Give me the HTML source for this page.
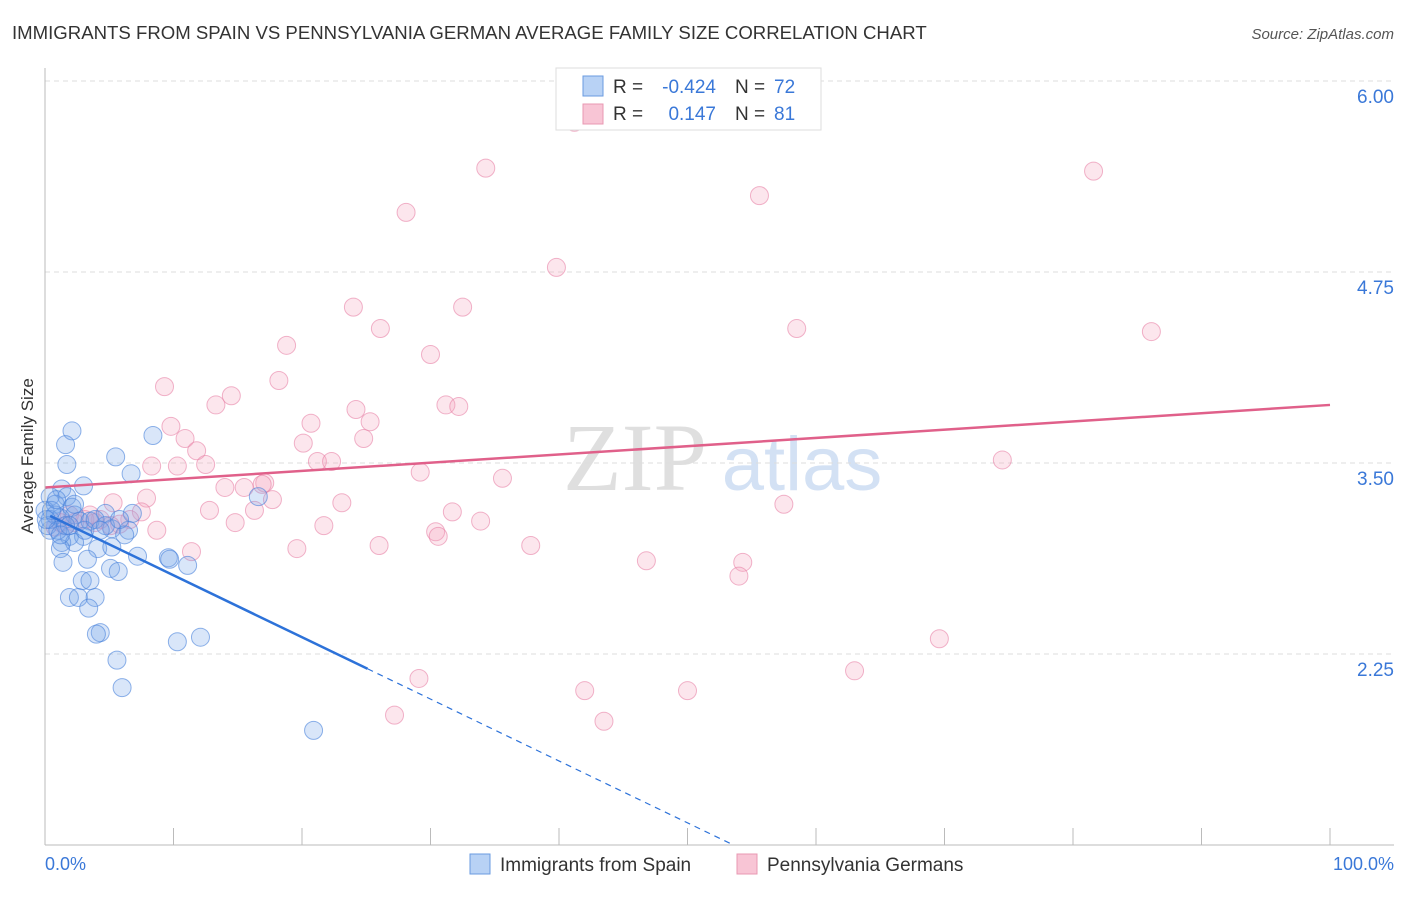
<!DOCTYPE html>
<html><head><meta charset="utf-8"><style>
body{margin:0;background:#fff;font-family:"Liberation Sans",sans-serif}
</style></head><body>
<svg id="c" width="1406" height="892" xmlns="http://www.w3.org/2000/svg" style="font-family:'Liberation Sans',sans-serif">
<text x="12" y="39" font-size="18.6" fill="#333">IMMIGRANTS FROM SPAIN VS PENNSYLVANIA GERMAN AVERAGE FAMILY SIZE CORRELATION CHART</text>
<text x="1394" y="39" font-size="15" fill="#555" font-style="italic" text-anchor="end">Source: ZipAtlas.com</text>
<text transform="translate(33,456) rotate(-90)" font-size="17" fill="#333" text-anchor="middle">Average Family Size</text>
<g><text x="635" y="490" font-size="96" fill="#d8d8d8" font-family="Liberation Serif" text-anchor="middle" opacity="0.8">ZIP</text><text x="802" y="490" font-size="76" fill="#c9daf2" text-anchor="middle" opacity="0.8">atlas</text></g>
<g id="grid"></g><g id="marks"></g>
<line x1="45" y1="68" x2="45" y2="845" stroke="#bbb"/>
<line x1="45" y1="845" x2="1394" y2="845" stroke="#bbb"/>
<text x="45" y="870" font-size="18" fill="#3a78d8">0.0%</text>
<text x="1394" y="870" font-size="18" fill="#3a78d8" text-anchor="end">100.0%</text>
<g>
<rect x="556" y="68" width="265" height="62" fill="#fff" stroke="#ddd"/>
<rect x="583" y="76" width="20" height="20" fill="#b8d2f5" stroke="#6a9be0"/>
<rect x="583" y="104" width="20" height="20" fill="#f8c5d5" stroke="#e898b2"/>
<text x="613" y="93" font-size="19" fill="#333">R =</text>
<text x="716" y="93" font-size="19" fill="#3a78d8" text-anchor="end">-0.424</text>
<text x="735" y="93" font-size="19" fill="#333">N =</text>
<text x="774" y="93" font-size="19" fill="#3a78d8">72</text>
<text x="613" y="120" font-size="19" fill="#333">R =</text>
<text x="716" y="120" font-size="19" fill="#3a78d8" text-anchor="end">0.147</text>
<text x="735" y="120" font-size="19" fill="#333">N =</text>
<text x="774" y="120" font-size="19" fill="#3a78d8">81</text>
</g>
<g>
<rect x="470" y="854" width="20" height="20" fill="#b8d2f5" stroke="#6a9be0"/>
<text x="500" y="871" font-size="19" fill="#333">Immigrants from Spain</text>
<rect x="737" y="854" width="20" height="20" fill="#f8c5d5" stroke="#e898b2"/>
<text x="767" y="871" font-size="19" fill="#333">Pennsylvania Germans</text>
</g>
</svg>
<script>
const yTicks=[6.00,4.75,3.50,2.25];
const blueX=[8.4,2.1,1.6,5.5,1.7,6.7,3.0,1.3,16.6,0.4,1.7,0.8,2.1,0.0,2.3,4.7,6.8,1.2,2.7,3.5,5.2,6.5,0.4,6.2,1.9,3.0,1.3,2.3,1.2,4.1,5.2,7.2,9.6,9.7,3.3,1.4,11.1,5.1,5.7,2.9,3.5,1.9,2.6,3.9,3.4,4.3,4.0,12.1,10.3,5.6,6.0,20.9,0.4,0.8,0.2,1.6,1.0,0.5,0.1,1.2,1.9,3.1,3.9,4.7,5.8,4.3,0.9,2.3];
const blueY=[3.68,3.71,3.62,3.54,3.49,3.43,3.35,3.33,3.28,3.28,3.28,3.23,3.21,3.19,3.16,3.17,3.17,3.14,3.12,3.12,3.07,3.06,3.06,3.03,3.02,3.02,2.98,2.98,2.94,2.94,2.95,2.89,2.88,2.87,2.87,2.85,2.83,2.81,2.79,2.73,2.73,2.62,2.62,2.62,2.55,2.39,2.38,2.36,2.33,2.21,2.03,1.75,3.13,3.16,3.09,3.09,3.06,3.19,3.13,3.03,3.09,3.06,3.13,3.09,3.13,3.06,3.26,3.23];
const pinkX=[41.2,34.3,81.6,55.6,28.1,39.8,24.0,32.5,26.1,58.5,86.1,18.8,30.0,9.3,18.2,14.5,13.3,31.2,32.2,24.2,9.8,20.7,25.3,10.9,20.1,24.8,11.8,8.3,10.3,12.5,21.2,22.3,74.5,29.2,35.6,17.1,16.9,14.0,15.5,7.9,17.7,23.1,5.3,12.8,16.3,31.7,57.5,7.5,6.6,4.3,5.8,14.8,33.9,21.7,8.7,30.4,30.6,37.8,26.0,19.6,11.4,46.8,54.3,54.0,69.6,63.0,29.1,42.0,50.0,27.2,43.5,3.1,2.3,3.9,5.1,1.6,0.8,3.5,1.9,1.2];
const pinkY=[5.73,5.43,5.41,5.25,5.14,4.78,4.52,4.52,4.38,4.38,4.36,4.27,4.21,4.00,4.04,3.94,3.88,3.88,3.87,3.85,3.74,3.76,3.77,3.66,3.63,3.66,3.58,3.48,3.48,3.49,3.51,3.51,3.52,3.44,3.40,3.37,3.36,3.34,3.34,3.27,3.26,3.24,3.24,3.19,3.19,3.18,3.23,3.18,3.13,3.13,3.10,3.11,3.12,3.09,3.06,3.05,3.02,2.96,2.96,2.94,2.92,2.86,2.85,2.76,2.35,2.14,2.09,2.01,2.01,1.85,1.81,3.13,3.11,3.11,3.09,3.09,3.08,3.16,3.16,3.11];
const blueTrend=[3.17,-0.0405];
const pinkTrend=[3.34,0.0054];
const X=p=>45+p*12.85, Y=v=>463-(v-3.5)*152.8;
const NS="http://www.w3.org/2000/svg";
function mk(t,a,parent){const e=document.createElementNS(NS,t);for(const k in a)e.setAttribute(k,a[k]);parent.appendChild(e);return e;}
const grid=document.getElementById('grid'), marks=document.getElementById('marks');
yTicks.forEach(v=>{
 const l=mk('line',{x1:45,x2:1394,y1:Y(v),y2:Y(v),stroke:'#ddd','stroke-dasharray':'5,4'},grid);
 
 
 const t=mk('text',{x:1394,y:Y(v)+22,'font-size':19,fill:'#3a78d8','text-anchor':'end'},grid);
 t.textContent=v.toFixed(2);
 
 
});
for(let i=0;i<=10;i++){
 const t=mk('line',{x1:X(i*10),x2:X(i*10),y1:828,y2:845,stroke:'#bbb'},grid);
 
 
}
function pts(xs,ys,fill,stroke,name){xs.forEach((x,i)=>{
 const c=mk('circle',{cx:X(x),cy:Y(ys[i]),r:9,fill:fill,stroke:stroke,'stroke-width':1},marks);
 
 
});}
pts(pinkX,pinkY,'rgba(244,165,192,0.28)','rgba(232,130,166,0.6)','pa-german-point');
pts(blueX,blueY,'rgba(120,165,232,0.28)','rgba(70,128,218,0.6)','spain-point');
const bf=p=>blueTrend[0]+blueTrend[1]*p, pf=p=>pinkTrend[0]+pinkTrend[1]*p;
let l=mk('line',{x1:X(0.4),y1:Y(bf(0.4)),x2:X(25.1),y2:Y(bf(25.1)),stroke:'#2d72d9','stroke-width':2.5},marks);


const pEnd=(blueTrend[0]-1.0)/-blueTrend[1];
l=mk('line',{x1:X(25.1),y1:Y(bf(25.1)),x2:X(pEnd),y2:Y(bf(pEnd)),stroke:'#2d72d9','stroke-width':1.2,'stroke-dasharray':'6,5'},marks);


l=mk('line',{x1:X(0),y1:Y(pf(0)),x2:X(100),y2:Y(pf(100)),stroke:'#e0608a','stroke-width':2.5},marks);


</script>
</body></html>
